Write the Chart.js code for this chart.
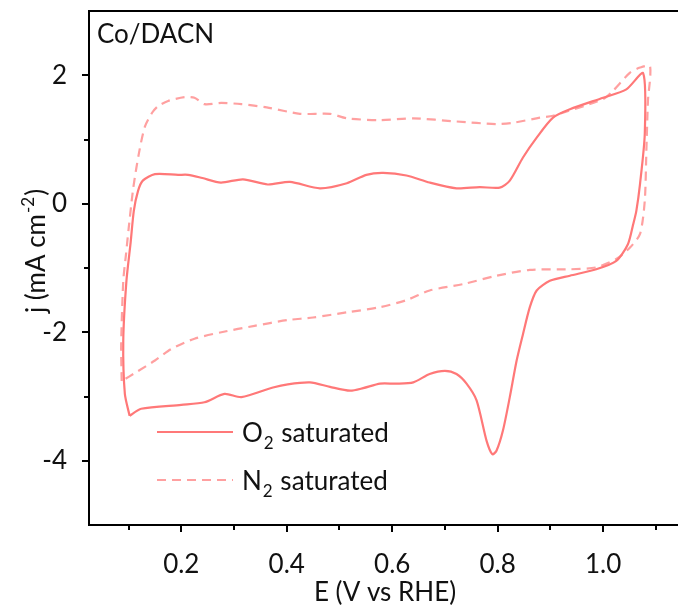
<!DOCTYPE html>
<html>
<head>
<meta charset="utf-8">
<script src="https://cdn.jsdelivr.net/npm/chart.js@4.4.1/dist/chart.umd.min.js"></script>
<style>
  body { margin: 0; background: #fff; overflow: hidden; }
  #wrap { width: 678px; height: 615px; position: relative; }
</style>
</head>
<body>
<div id="wrap"><canvas id="myChart"></canvas></div>
<script>
// O2 saturated CV loop (E in V vs RHE, j in mA cm-2)
const o2E = [0.102, 0.093, 0.090, 0.096, 0.104, 0.110, 0.118, 0.127, 0.150, 0.194, 0.213, 0.240, 0.275, 0.317, 0.364, 0.406, 0.463, 0.514, 0.551, 0.583, 0.627, 0.671, 0.722, 0.766, 0.804, 0.823, 0.848, 0.874, 0.905, 0.937, 1.000, 1.044, 1.076,
  1.079, 1.070, 1.063, 1.057, 1.047, 1.025, 0.987, 0.937, 0.899, 0.874, 0.861, 0.848, 0.836, 0.823, 0.810, 0.798, 0.790, 0.779, 0.760, 0.741, 0.722, 0.700, 0.671, 0.640, 0.608, 0.577, 0.545, 0.520, 0.482, 0.444, 0.402, 0.374, 0.314, 0.282, 0.244, 0.200, 0.124, 0.102];
const o2J = [-3.30, -2.96, -2.13, -1.20, -0.60, -0.11, 0.20, 0.36, 0.46, 0.45, 0.45, 0.40, 0.33, 0.38, 0.30, 0.34, 0.24, 0.32, 0.45, 0.48, 0.44, 0.33, 0.24, 0.26, 0.25, 0.36, 0.72, 1.03, 1.34, 1.47, 1.65, 1.78, 2.03,
  1.09, 0.31, -0.11, -0.32, -0.63, -0.89, -1.02, -1.12, -1.20, -1.35, -1.61, -2.03, -2.44, -3.01, -3.53, -3.84, -3.90, -3.69, -3.06, -2.80, -2.65, -2.60, -2.65, -2.78, -2.80, -2.80, -2.87, -2.91, -2.85, -2.78, -2.81, -2.86, -3.01, -2.96, -3.09, -3.13, -3.19, -3.30];

// N2 saturated CV loop
const n2E = [0.087, 0.086, 0.090, 0.095, 0.100, 0.109, 0.120, 0.131, 0.145, 0.156, 0.175, 0.206, 0.225, 0.244, 0.276, 0.314, 0.362, 0.425, 0.482, 0.514, 0.577, 0.640, 0.722, 0.798, 0.829, 0.880, 0.905, 1.000, 1.019, 1.051, 1.070, 1.089,
  1.085, 1.082, 1.079, 1.070, 1.051, 1.025, 0.987, 0.937, 0.861, 0.798, 0.735, 0.671, 0.627, 0.577, 0.514, 0.450, 0.402, 0.339, 0.276, 0.225, 0.181, 0.150, 0.115, 0.087];
const n2J = [-2.76, -2.20, -1.20, -0.80, -0.40, 0.25, 0.80, 1.20, 1.42, 1.52, 1.60, 1.66, 1.65, 1.55, 1.57, 1.55, 1.50, 1.40, 1.40, 1.33, 1.30, 1.33, 1.28, 1.24, 1.26, 1.34, 1.37, 1.63, 1.76, 2.04, 2.12, 2.14,
  1.60, 0.82, 0.05, -0.47, -0.68, -0.86, -0.99, -1.02, -1.03, -1.12, -1.25, -1.35, -1.50, -1.61, -1.69, -1.77, -1.81, -1.90, -2.00, -2.10, -2.26, -2.44, -2.62, -2.76];

const xTicks = [0.1, 0.2, 0.3, 0.4, 0.5, 0.6, 0.7, 0.8, 0.9, 1.0, 1.1];
const xLabels = ["0.2", "0.4", "0.6", "0.8", "1.0"];
const yTicks = [-4, -3, -2, -1, 0, 1, 2];
const yLabels = ["-4", "-2", "0", "2"];

const FONT = "Lato";
const FS = 26;
const SUB = 17;
const solidColor = "#ff7878";
const dashColor = "#ffa0a0";

function toPoints(xs, ys) {
  return xs.map((x, i) => ({ x: x, y: ys[i] }));
}

// axis frame, tick marks, titles, legend
const decorations = {
  id: "decorations",
  afterDraw(chart) {
    const ctx = chart.ctx;
    const area = chart.chartArea;
    const xs = chart.scales.x;
    const ys = chart.scales.y;
    ctx.save();
    ctx.strokeStyle = "#000";
    ctx.lineWidth = 2;
    // top frame line
    ctx.beginPath();
    ctx.moveTo(area.left - 1, area.top);
    ctx.lineTo(chart.width, area.top);
    ctx.stroke();
    // x ticks
    xTicks.forEach((v) => {
      const px = Math.round(xs.getPixelForValue(v));
      const major = xLabels.indexOf(v.toFixed(1)) >= 0;
      ctx.beginPath();
      ctx.moveTo(px, area.bottom);
      ctx.lineTo(px, area.bottom + (major ? 7 : 5));
      ctx.stroke();
    });
    // y ticks
    yTicks.forEach((v) => {
      const py = Math.round(ys.getPixelForValue(v));
      const major = yLabels.indexOf(String(v)) >= 0;
      ctx.beginPath();
      ctx.moveTo(area.left, py);
      ctx.lineTo(area.left - (major ? 7 : 5), py);
      ctx.stroke();
    });

    ctx.fillStyle = "#111";
    ctx.font = FS + "px " + FONT;
    // sample label
    ctx.textAlign = "left";
    ctx.textBaseline = "alphabetic";
    ctx.fillText("Co/DACN", 97, 43);

    // x title
    ctx.textAlign = "center";
    ctx.fillText("E (V vs RHE)", 385, 601);

    // y title with superscript
    ctx.save();
    ctx.translate(45, 252);
    ctx.rotate(-Math.PI / 2);
    const main = "j (mA cm";
    const sup = "-2";
    const close = ")";
    ctx.font = FS + "px " + FONT;
    const w1 = ctx.measureText(main).width;
    const w3 = ctx.measureText(close).width;
    ctx.font = SUB + "px " + FONT;
    const w2 = ctx.measureText(sup).width;
    let start = -(w1 + w2 + w3) / 2;
    ctx.textAlign = "left";
    ctx.font = FS + "px " + FONT;
    ctx.fillText(main, start, 0);
    ctx.font = SUB + "px " + FONT;
    ctx.fillText(sup, start + w1 + 1, -11);
    ctx.font = FS + "px " + FONT;
    ctx.fillText(close, start + w1 + w2 + 2, 0);
    ctx.restore();

    // legend
    const items = [
      { color: solidColor, dash: [], y: 432, name: "O", sub: "2" },
      { color: dashColor, dash: [9, 6], y: 480, name: "N", sub: "2" }
    ];
    items.forEach((it) => {
      ctx.strokeStyle = it.color;
      ctx.lineWidth = 2.2;
      ctx.setLineDash(it.dash);
      ctx.beginPath();
      ctx.moveTo(157, it.y);
      ctx.lineTo(233, it.y);
      ctx.stroke();
      ctx.setLineDash([]);
      ctx.textAlign = "left";
      ctx.font = FS + "px " + FONT;
      const base = it.y + 10;
      ctx.fillText(it.name, 242, base);
      const wn = ctx.measureText(it.name).width;
      ctx.font = SUB + "px " + FONT;
      ctx.fillText(it.sub, 242 + wn + 1, base + 7);
      const ws = ctx.measureText(it.sub).width;
      ctx.font = FS + "px " + FONT;
      ctx.fillText(" saturated", 242 + wn + ws + 2, base);
    });
    ctx.restore();
  }
};

const data = {
  datasets: [
    {
      label: "O2 saturated",
      data: toPoints(o2E, o2J),
      showLine: true,
      borderColor: solidColor,
      borderWidth: 2.2,
      pointRadius: 0,
      tension: 0.25,
      fill: false,
    },
    {
      label: "N2 saturated",
      data: toPoints(n2E, n2J),
      showLine: true,
      borderColor: dashColor,
      borderWidth: 2.2,
      borderDash: [9, 6],
      pointRadius: 0,
      tension: 0.25,
      fill: false,
    },
  ],
};

const config = {
  type: "scatter",
  data: data,
  options: {
    responsive: true,
    maintainAspectRatio: false,
    animation: false,
    layout: { autoPadding: false, padding: { top: 11, right: 0, left: 0, bottom: 0 } },
    plugins: {
      legend: { display: false },
      tooltip: { enabled: false },
    },
    scales: {
      x: {
        type: "linear",
        min: 0.025,
        max: 1.142,
        afterBuildTicks: (scale) => {
          scale.ticks = xLabels.map((s) => ({ value: parseFloat(s) }));
        },
        afterFit: (scale) => {
          scale.height = 90;
          scale.paddingLeft = 0;
          scale.paddingRight = 0;
        },
        grid: { display: false },
        border: { display: true, color: "#000", width: 2 },
        ticks: {
          color: "#111",
          font: { family: FONT, size: FS },
          padding: 16,
          maxRotation: 0,
          autoSkip: false,
          callback: (v) => v.toFixed(1),
        },
      },
      y: {
        type: "linear",
        min: -5,
        max: 3,
        afterBuildTicks: (scale) => {
          scale.ticks = yLabels.map((s) => ({ value: parseFloat(s) }));
        },
        afterFit: (scale) => {
          scale.width = 89;
          scale.paddingTop = 0;
          scale.paddingBottom = 0;
        },
        grid: { display: false },
        border: { display: true, color: "#000", width: 2 },
        ticks: {
          color: "#111",
          font: { family: FONT, size: FS },
          padding: 14,
          autoSkip: false,
          callback: (v) => String(v),
        },
      },
    },
  },
  plugins: [decorations],
};

const ctx = document.getElementById("myChart").getContext("2d");
const myChart = new Chart(ctx, config);
</script>
</body>
</html>
